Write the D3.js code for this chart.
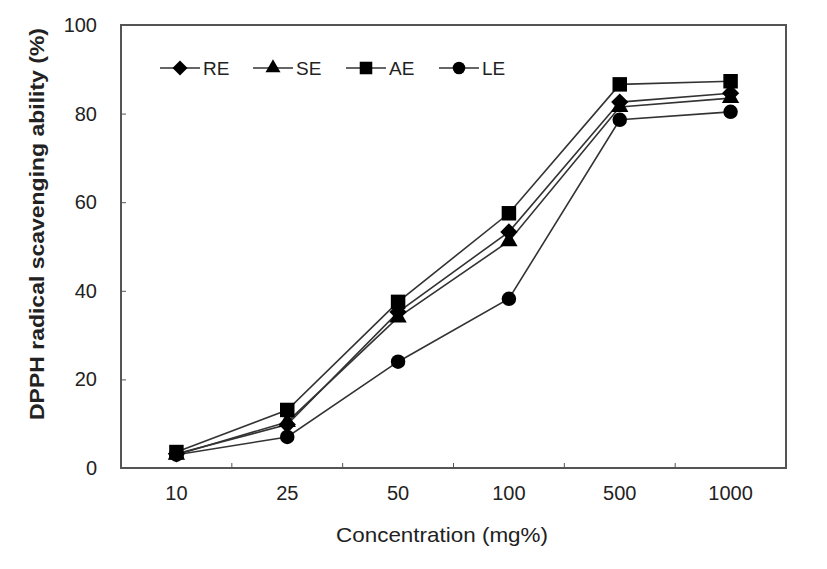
<!DOCTYPE html>
<html><head><meta charset="utf-8">
<script src="https://cdn.jsdelivr.net/npm/d3@7"></script>
<style>
html,body{margin:0;padding:0;background:#fff;}
text{font-family:"Liberation Sans",Arial,sans-serif;fill:#222;}
</style></head>
<body>
<svg id="chart" width="827" height="569"></svg>
<script>
const categories = ["10","25","50","100","500","1000"];
const seriesNames = ["RE","SE","AE","LE"];
const RE = [3.2, 9.8, 35.2, 53.3, 82.6, 84.6];
const SE = [3.0, 10.4, 34.0, 51.2, 81.5, 83.5];
const AE = [3.6, 13.1, 37.5, 57.5, 86.6, 87.3];
const LE = [3.0, 7.0, 24.0, 38.2, 78.6, 80.4];
const yTicks = [0,20,40,60,80,100];
const markerTypes = {RE: d3.symbolDiamond2 || d3.symbolDiamond, SE: d3.symbolTriangle, AE: d3.symbolSquare, LE: d3.symbolCircle};
const data = {RE, SE, AE, LE};

const svg = d3.select("#chart");
const L = 121, R = 786, T = 25, B = 468;
const x = d3.scaleBand().domain(categories).range([L, R]);
const y = d3.scaleLinear().domain([0,100]).range([B, T]);
const cx = c => x(c) + x.bandwidth()/2;

// frame
svg.append("rect").attr("x",L).attr("y",T).attr("width",R-L).attr("height",B-T)
  .attr("fill","none").attr("stroke","#555").attr("stroke-width",2);

// y axis
const yAxis = d3.axisLeft(y).tickValues(yTicks).tickSize(-5).tickPadding(24);
const gy = svg.append("g").attr("transform",`translate(${L},0)`).call(yAxis);
gy.select(".domain").remove();
gy.selectAll(".tick line").attr("stroke","#555").attr("stroke-width",1);
gy.selectAll(".tick text").attr("font-size",20).attr("fill","#333").attr("font-family","Liberation Sans, Arial, sans-serif");

// x axis: labels at band centers, ticks at band boundaries
const xAxis = d3.axisBottom(x).tickSize(0).tickPadding(18);
const gx = svg.append("g").attr("transform",`translate(0,${B})`).call(xAxis);
gx.select(".domain").remove();
gx.selectAll(".tick text").attr("font-size",20).attr("fill","#333").attr("font-family","Liberation Sans, Arial, sans-serif");
const bounds = categories.slice(1).map(c => x(c));
svg.append("g").selectAll("line").data(bounds).join("line")
  .attr("x1",d=>d).attr("x2",d=>d).attr("y1",B).attr("y2",B-5)
  .attr("stroke","#555").attr("stroke-width",1);

// titles
svg.append("text").attr("x",442).attr("y",542).attr("text-anchor","middle")
  .attr("font-size",21).attr("fill","#111").attr("textLength",212).attr("lengthAdjust","spacingAndGlyphs")
  .text("Concentration (mg%)");
svg.append("text").attr("transform","translate(44,224) rotate(-90)").attr("text-anchor","middle")
  .attr("font-size",20).attr("font-weight","bold").attr("fill","#222").attr("textLength",392).attr("lengthAdjust","spacingAndGlyphs")
  .text("DPPH radical scavenging ability (%)");

// lines
const line = d3.line().x((d,i)=>cx(categories[i])).y(d=>y(d));
const symSize = {RE: 190, SE: 130, AE: 210, LE: 165};
seriesNames.forEach(name => {
  svg.append("path").datum(data[name]).attr("d",line)
    .attr("fill","none").attr("stroke","#333").attr("stroke-width",1.6);
});
seriesNames.forEach(name => {
  svg.append("g").selectAll("path").data(data[name]).join("path")
    .attr("transform",(d,i)=>`translate(${cx(categories[i])},${y(d)})`)
    .attr("d", d3.symbol().type(markerTypes[name]).size(symSize[name]))
    .attr("fill","#000");
});

// legend
const legX0 = 160, legY = 68, legStep = 93;
const leg = svg.append("g");
seriesNames.forEach((name,i) => {
  const gx0 = legX0 + i*legStep;
  const g = leg.append("g");
  g.append("line").attr("x1",gx0).attr("x2",gx0+40).attr("y1",legY).attr("y2",legY)
    .attr("stroke","#333").attr("stroke-width",1.6);
  g.append("path").attr("transform",`translate(${gx0+20},${legY})`)
    .attr("d", d3.symbol().type(markerTypes[name]).size(symSize[name]*0.75)).attr("fill","#000");
  g.append("text").attr("x",gx0+43).attr("y",legY+7).attr("font-size",19).attr("fill","#222").text(name);
});
</script>
</body></html>
